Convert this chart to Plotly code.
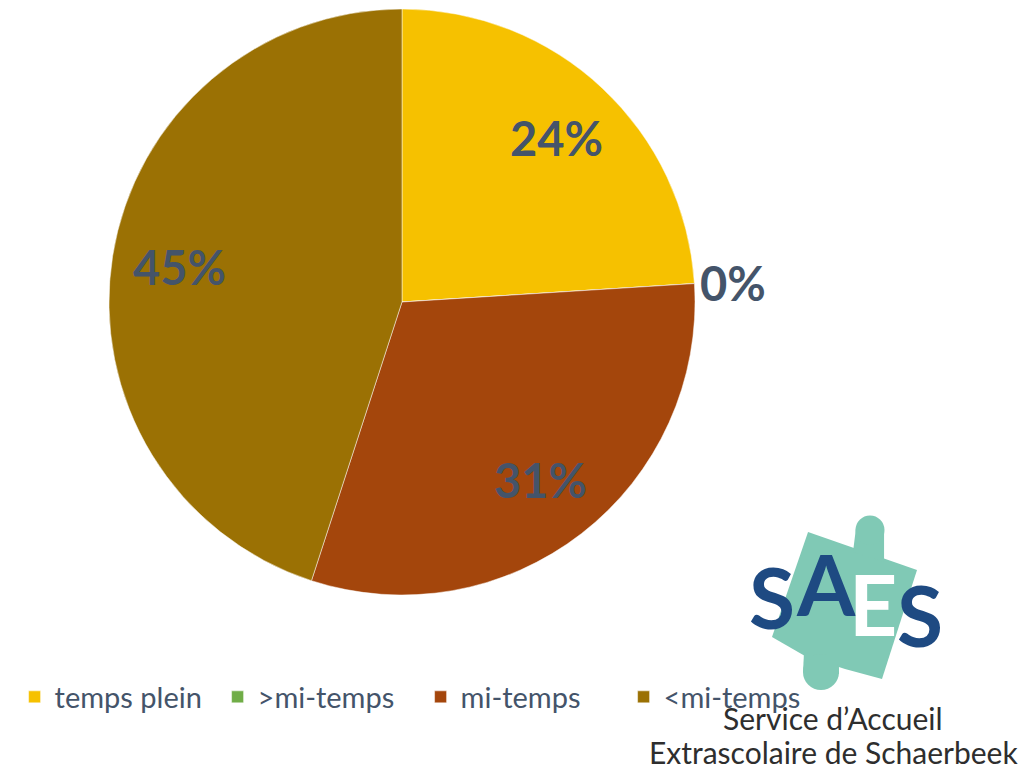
import math
import plotly.graph_objects as go

categories = ["temps plein", ">mi-temps", "mi-temps", "<mi-temps"]
values = [24, 0, 31, 45]
colors = ["#F6C100", "#70AD47", "#A4460C", "#9B7104"]

W, H = 1027, 769
CX, CY, R = 402, 302, 293  # pie centre / radius in pixels
LABEL_COLOR = "#44546A"

fig = go.Figure()
fig.add_trace(go.Pie(
    labels=categories,
    values=values,
    marker=dict(colors=colors, line=dict(color="rgba(255,255,255,0.6)", width=0.8)),
    sort=False,
    direction="clockwise",
    rotation=0,
    textinfo="none",
    hoverinfo="label+percent",
    domain=dict(x=[(CX - R) / W, (CX + R) / W], y=[1 - (CY + R) / H, 1 - (CY - R) / H]),
    showlegend=True,
))

# percentage labels placed from the data
total = sum(values)
cum = 0
for cat, v in zip(categories, values):
    share = v / total
    mid = (cum + share / 2) * 2 * math.pi
    cum += share
    txt = f"{round(share * 100)}%"
    if share < 0.02:
        r = R + 4
        xanchor = "left"
    else:
        r = 0.77 * R
        xanchor = "center"
    px = CX + r * math.sin(mid)
    py = CY - r * math.cos(mid)
    fig.add_annotation(
        x=px / W, y=1 - py / H, xref="paper", yref="paper",
        text=f"<b>{txt}</b>", showarrow=False, xanchor=xanchor, yanchor="middle",
        font=dict(family="Lato", size=47, color=LABEL_COLOR),
    )

# ---- logo (decoration) ----
teal = "#80C9B5"

def poly(pts):
    return "M " + " L ".join(f"{x/W:.4f},{1 - y/H:.4f}" for x, y in pts) + " Z"

for pts in [
    [(808, 532), (917, 570), (882, 679), (845, 669), (805, 656), (772, 637)],  # body
    [(856, 528), (884, 531), (884, 562), (853, 552)],      # top tab neck
    [(804, 652), (839, 662), (839, 674), (803, 672)],      # bottom tab neck
]:
    fig.add_shape(type="path", path=poly(pts), xref="paper", yref="paper",
                  fillcolor=teal, line=dict(width=0), layer="above")
for (kx, ky, kr) in [(870, 530, 14.5), (821, 672, 18)]:
    fig.add_shape(type="circle", xref="paper", yref="paper",
                  x0=(kx - kr) / W, x1=(kx + kr) / W, y0=1 - (ky + kr) / H, y1=1 - (ky - kr) / H,
                  fillcolor=teal, line=dict(width=0), layer="above")

navy = "#1E4A82"
for ch, x, y, col in [("S", 772, 596, navy), ("A", 826, 583, navy), ("E", 873, 603, "white"), ("S", 920, 614, navy)]:
    fig.add_annotation(x=x / W, y=1 - y / H, xref="paper", yref="paper", text=ch, showarrow=False,
                       xanchor="center", yanchor="middle",
                       font=dict(family="Lato", size=84, color=col, weight="bold"))

fig.add_annotation(x=833 / W, y=1 - 718 / H, xref="paper", yref="paper", text="Service d’Accueil",
                   showarrow=False, xanchor="center", yanchor="middle",
                   font=dict(family="Lato", size=30, color="#2E2E2E"))
fig.add_annotation(x=833 / W, y=1 - 752 / H, xref="paper", yref="paper", text="Extrascolaire de Schaerbeek",
                   showarrow=False, xanchor="center", yanchor="middle",
                   font=dict(family="Lato", size=30, color="#2E2E2E"))

fig.update_layout(
    width=W, height=H,
    margin=dict(l=0, r=0, t=0, b=0),
    paper_bgcolor="white",
    legend=dict(orientation="h", x=0.0142, y=1 - 697 / H, xanchor="left", yanchor="middle",
                font=dict(family="Lato", size=29, color=LABEL_COLOR), traceorder="normal",
                entrywidth=158, entrywidthmode="pixels",
                bgcolor="rgba(0,0,0,0)"),
)

fig.write_html("out.html", config={"displayModeBar": False},
               post_script="document.body.style.margin='0';document.body.style.overflow='hidden';")
